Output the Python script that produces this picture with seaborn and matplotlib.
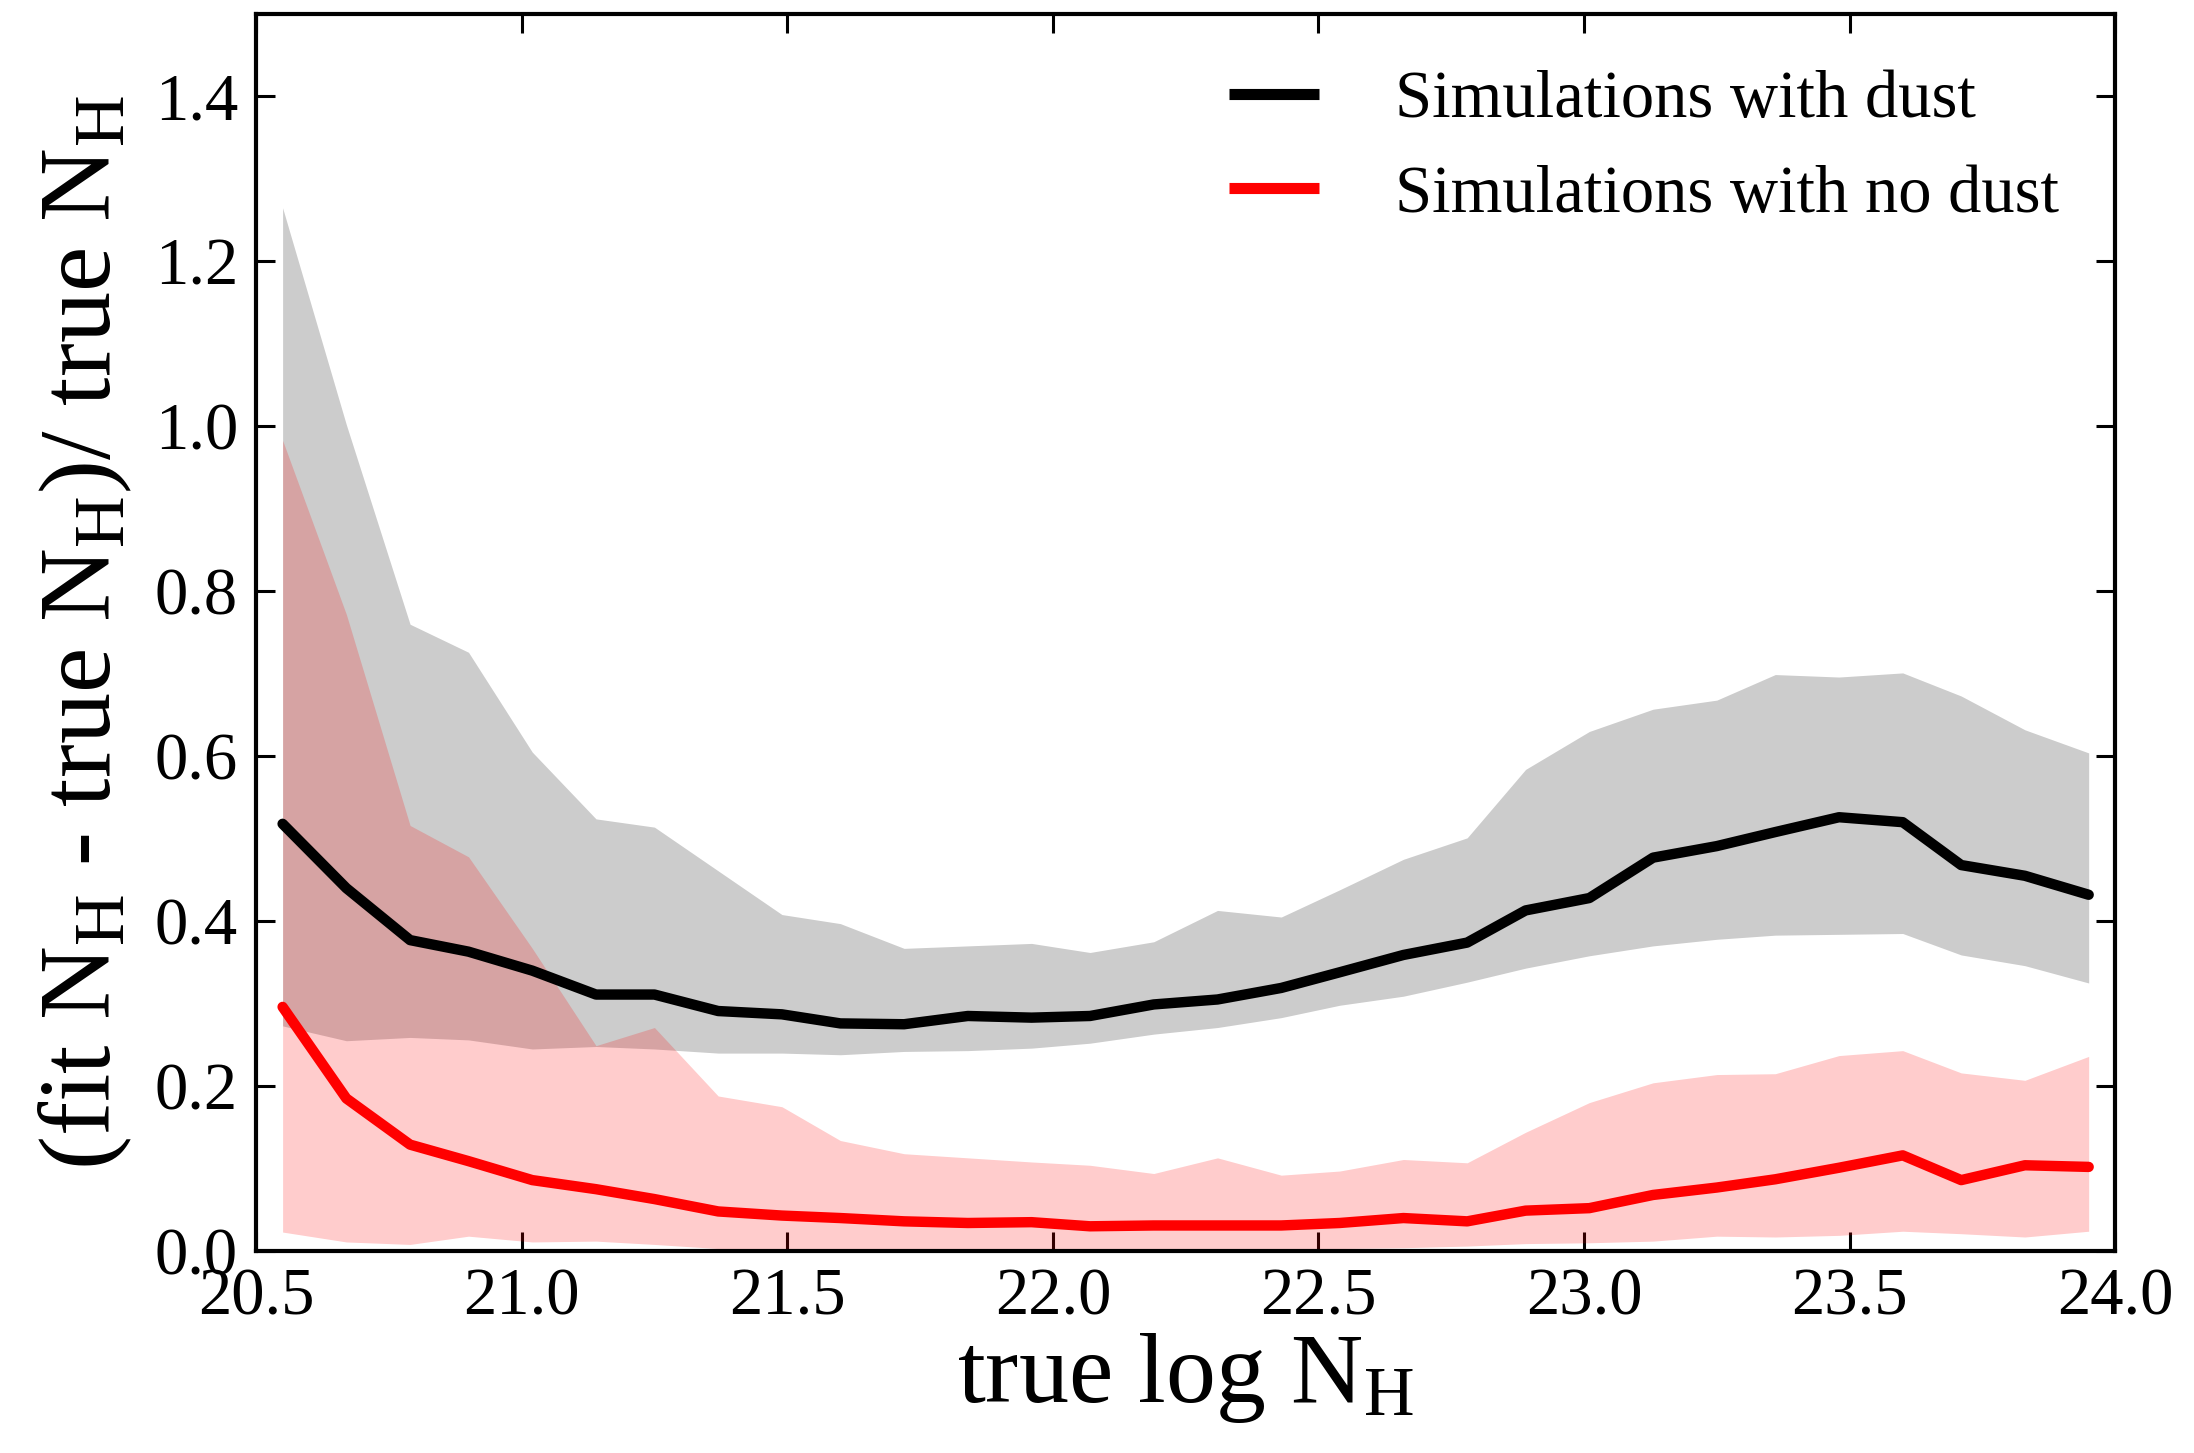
import numpy as np
import pandas as pd
import matplotlib
matplotlib.use("Agg")
import matplotlib.pyplot as plt
import seaborn as sns

# Bin centres in true log N_H
log_nh = [20.55, 20.67, 20.79, 20.90, 21.02, 21.14, 21.25, 21.37, 21.49, 21.60,
          21.72, 21.84, 21.96, 22.07, 22.19, 22.31, 22.43, 22.54, 22.66, 22.78,
          22.89, 23.01, 23.13, 23.25, 23.36, 23.48, 23.60, 23.71, 23.83, 23.95]

# Simulations with dust: median and spread of the fractional N_H offset
dust_mid = [0.518, 0.440, 0.377, 0.363, 0.340, 0.311, 0.311, 0.291, 0.287, 0.276,
            0.275, 0.285, 0.283, 0.285, 0.299, 0.305, 0.319, 0.338, 0.359, 0.374,
            0.413, 0.428, 0.477, 0.491, 0.508, 0.526, 0.520, 0.468, 0.455, 0.432]
dust_hi = [1.265, 1.002, 0.760, 0.726, 0.605, 0.524, 0.514, 0.461, 0.408, 0.397,
           0.367, 0.370, 0.373, 0.362, 0.375, 0.413, 0.405, 0.438, 0.475, 0.501,
           0.584, 0.630, 0.657, 0.668, 0.699, 0.696, 0.701, 0.673, 0.632, 0.604]
dust_lo = [0.273, 0.255, 0.259, 0.256, 0.245, 0.248, 0.245, 0.240, 0.240, 0.238,
           0.242, 0.243, 0.246, 0.252, 0.263, 0.271, 0.283, 0.298, 0.309, 0.326,
           0.343, 0.358, 0.370, 0.378, 0.383, 0.384, 0.385, 0.359, 0.346, 0.325]

# Simulations without dust
nodust_mid = [0.296, 0.185, 0.129, 0.109, 0.086, 0.075, 0.063, 0.048, 0.043, 0.040,
              0.036, 0.034, 0.035, 0.030, 0.031, 0.031, 0.031, 0.034, 0.040, 0.036,
              0.049, 0.052, 0.068, 0.077, 0.087, 0.101, 0.116, 0.086, 0.104, 0.102]
nodust_hi = [0.983, 0.772, 0.516, 0.478, 0.367, 0.249, 0.271, 0.188, 0.175, 0.134,
             0.118, 0.113, 0.108, 0.104, 0.094, 0.113, 0.092, 0.097, 0.111, 0.107,
             0.144, 0.180, 0.204, 0.214, 0.215, 0.237, 0.243, 0.216, 0.207, 0.236]
nodust_lo = [0.023, 0.011, 0.008, 0.018, 0.011, 0.012, 0.008, 0.003, 0.001, 0.001,
             0.001, 0.001, 0.001, 0.002, 0.002, 0.002, 0.002, 0.003, 0.004, 0.006,
             0.009, 0.010, 0.012, 0.018, 0.017, 0.019, 0.024, 0.021, 0.017, 0.024]

labels = ["Simulations with dust", "Simulations with no dust"]
colors = ["black", "red"]

x_ticks = [20.5, 21.0, 21.5, 22.0, 22.5, 23.0, 23.5, 24.0]
y_ticks = [0.0, 0.2, 0.4, 0.6, 0.8, 1.0, 1.2, 1.4]

df = pd.DataFrame({
    "log_nh": log_nh * 2,
    "offset": dust_mid + nodust_mid,
    "sample": [labels[0]] * len(log_nh) + [labels[1]] * len(log_nh),
})

sns.set_style("ticks")
plt.rcParams["font.family"] = ["Liberation Serif", "DejaVu Serif"]
plt.rcParams["mathtext.fontset"] = "custom"
plt.rcParams["mathtext.rm"] = "Liberation Serif"
plt.rcParams["mathtext.it"] = "Liberation Serif:italic"
for key in ("text.color", "axes.labelcolor", "xtick.color", "ytick.color",
            "axes.edgecolor"):
    plt.rcParams[key] = "black"

fig = plt.figure(figsize=(21.94, 14.53), dpi=100)
ax = fig.add_axes([0.1167, 0.139, 0.8474, 0.8514])

ax.fill_between(log_nh, dust_lo, dust_hi, color="black", alpha=0.2, linewidth=0)
ax.fill_between(log_nh, nodust_lo, nodust_hi, color="red", alpha=0.2, linewidth=0)

sns.lineplot(data=df, x="log_nh", y="offset", hue="sample",
             palette=dict(zip(labels, colors)), linewidth=7.5, ax=ax,
             sort=False, estimator=None)

ax.set_xlim(20.5, 24.0)
ax.set_ylim(0.0, 1.5)
ax.set_xticks(x_ticks)
ax.set_yticks(y_ticks)
ax.set_xticklabels([f"{v:.1f}" for v in x_ticks])
ax.set_yticklabels([f"{v:.1f}" for v in y_ticks])

ax.tick_params(axis="both", which="major", direction="in", length=14, width=2.2,
               labelsize=48, top=True, right=True)
ax.tick_params(axis="x", pad=12)
ax.tick_params(axis="y", pad=13)
for s in ax.spines.values():
    s.set_visible(True)
    s.set_linewidth(3)

ax.set_xlabel(r"true log N$_{\rm H}$", fontsize=72, labelpad=2)
ax.set_ylabel(r"(fit N$_{\rm H}$ - true N$_{\rm H}$)/ true N$_{\rm H}$",
              fontsize=73.5, labelpad=15)

leg = ax.legend(loc="upper right", bbox_to_anchor=(0.984, 0.976),
                borderaxespad=0, frameon=False, fontsize=48,
                handlelength=1.36, handletextpad=1.13, labelspacing=0.5)
for h in leg.get_lines():
    h.set_linewidth(8)
    h.set_solid_capstyle("butt")

fig.savefig("out.png", dpi=100)
